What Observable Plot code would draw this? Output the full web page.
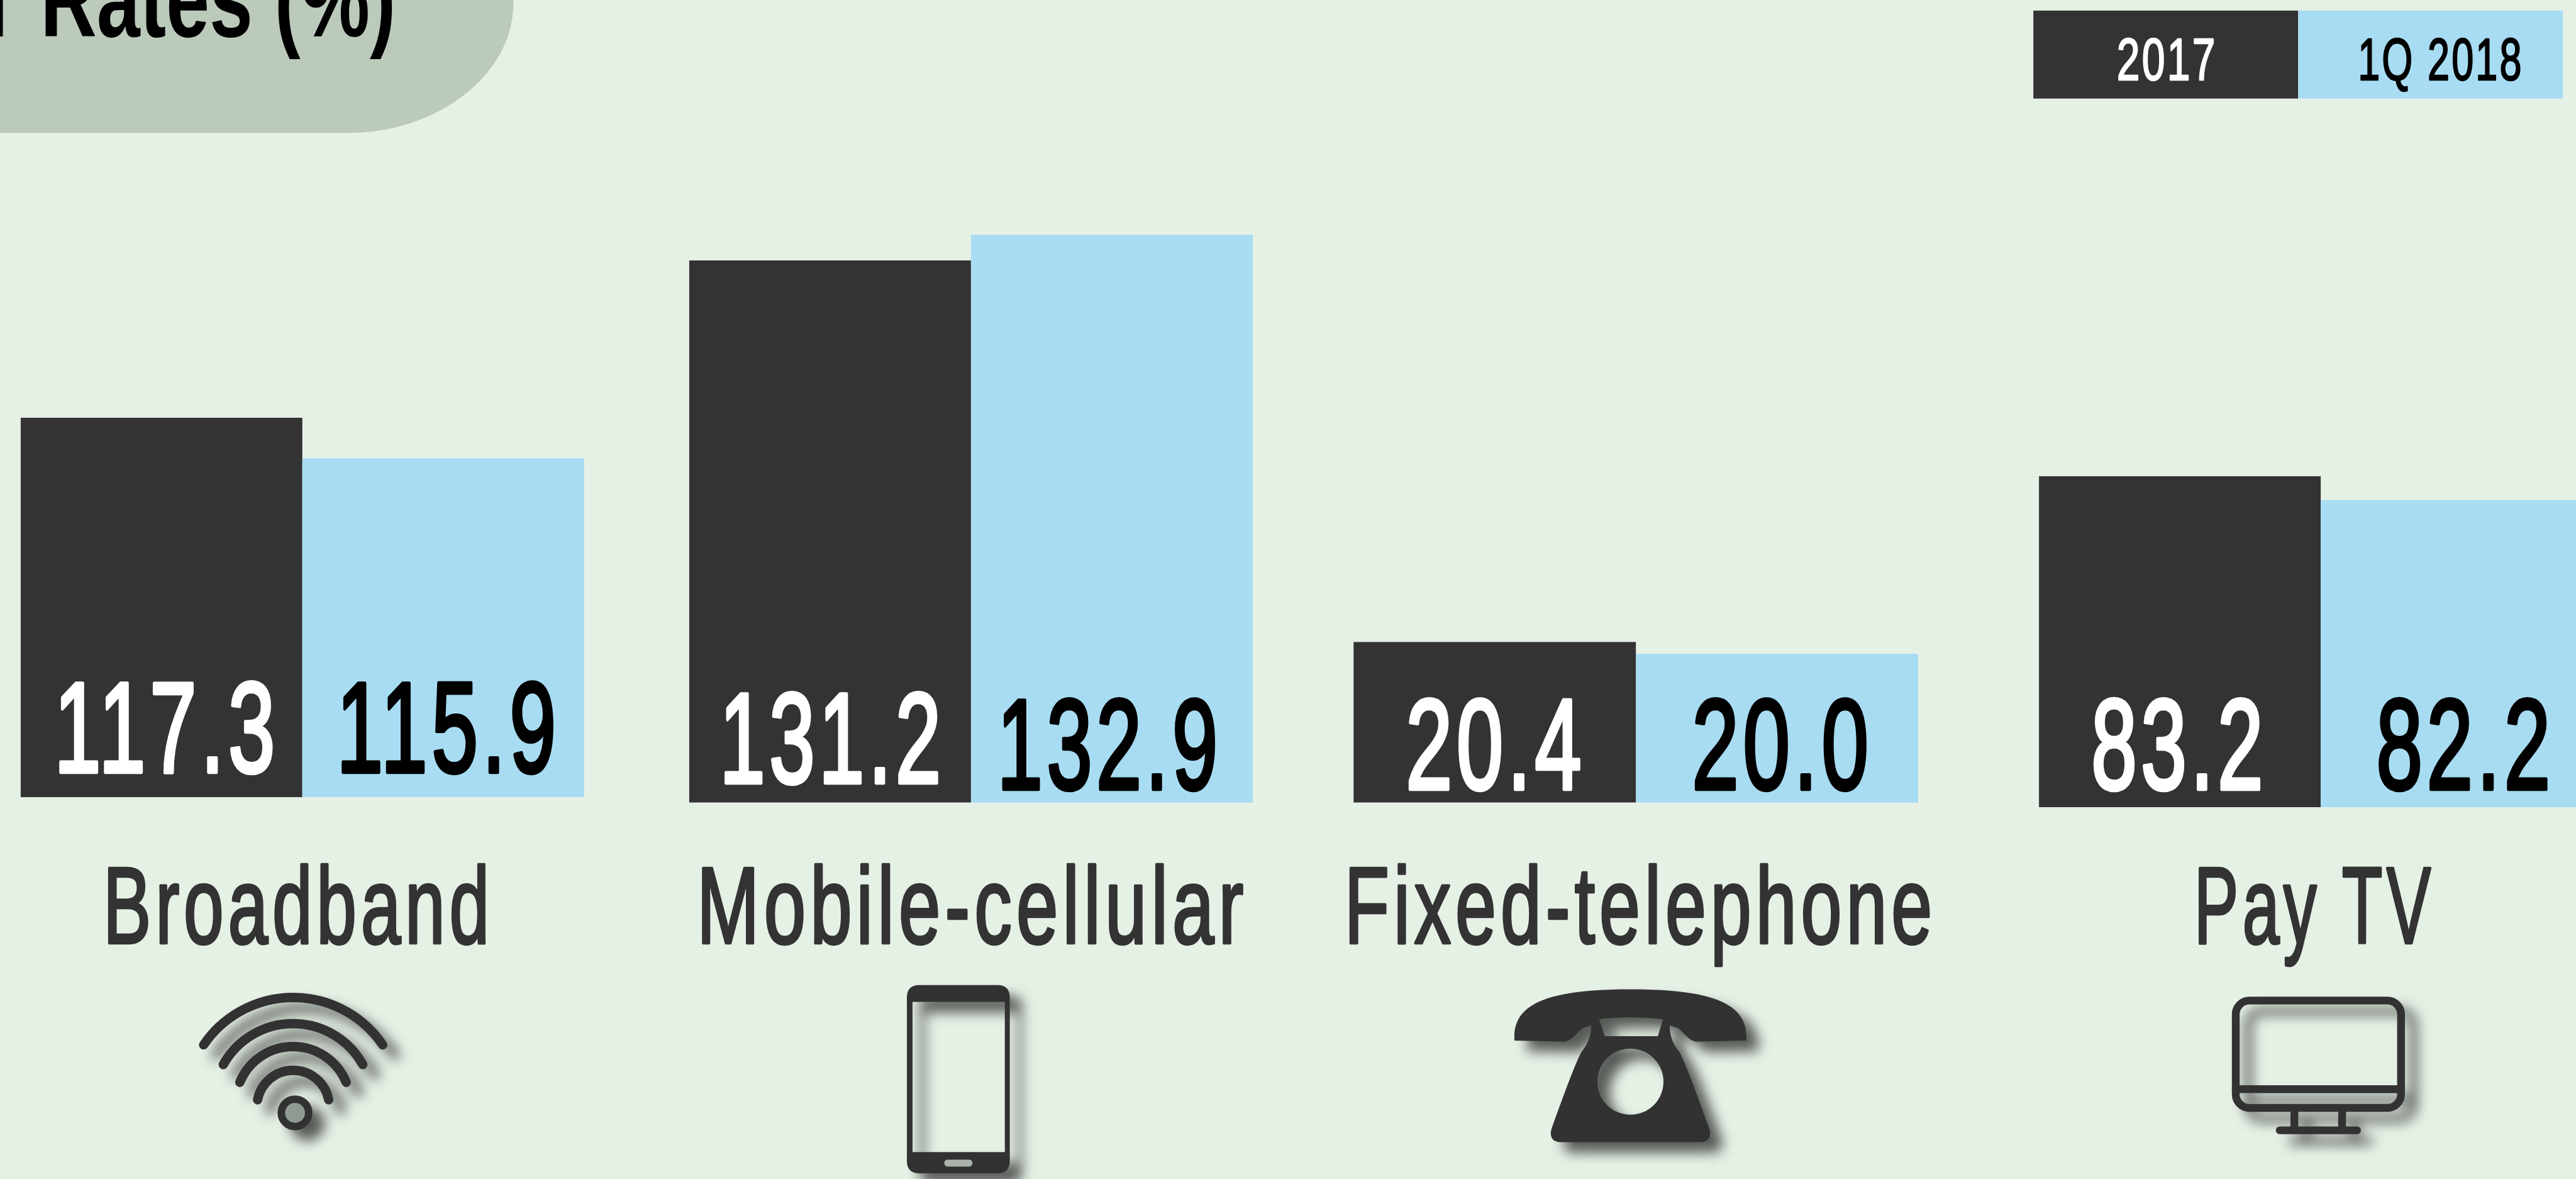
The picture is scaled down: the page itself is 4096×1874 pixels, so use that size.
<!DOCTYPE html>
<html><head><meta charset="utf-8">
<style>html,body{margin:0;padding:0;background:#e6f1e6;overflow:hidden}</style>
<script src="https://cdn.jsdelivr.net/npm/d3@7"></script>
<script src="https://cdn.jsdelivr.net/npm/@observablehq/plot@0.6"></script>
</head><body><div id="chart"></div>
<script>
// ---- data ----
const categories = ["Broadband", "Mobile-cellular", "Fixed-telephone", "Pay TV"];
const series = ["2017", "1Q 2018"];
const values2017 = [117.3, 131.2, 20.4, 83.2];
const values1Q2018 = [115.9, 132.9, 20.0, 82.2];
// every group in the source has its own truncated value axis
const axisFloors = [104.2, 95.17, 14.98, 69.38];
const axisCeilings = [125.26, 136.07, 35.75, 95.27];

// ---- style & layout (reference pixels) ----
const REF_W = 4130, REF_H = 1890, W = 4096, H = 1874;
const sx = W / REF_W, sy = H / REF_H, fs = (sx + sy) / 2;
const BG = "#e6f1e6", DARK = "#333333", BLUE = "#a8dcf3", BAND = "#bbcabb";
const FONT = "'Liberation Sans Narrow','Liberation Sans',sans-serif";
const panelTop = 300;
const panels = [
  {left: 33, right: 937, base: 1278, ink: [[88, 439, 1237], [541, 890, 1237]]},
  {left: 1104, right: 2009, base: 1286.6, ink: [[1154, 1506, 1253.7], [1600, 1950.5, 1264]]},
  {left: 2170, right: 3076, base: 1286.6, ink: [[2255, 2533.7, 1264], [2714, 2994, 1264]]},
  {left: 3268, right: 4173, base: 1294, ink: [[3353, 3626, 1264], [3811, 4087, 1264]]}
];
const catInk = [[167, 782], [1119, 1991], [2157, 3095], [3519, 3895]];
const catBaseline = 1511;
const legend = {top: 17, bottom: 158, edges: [3260, 3684.6, 4109], ink: [[3394.5, 3550], [3781, 4041]], baseline: 128};
const VALUE_SIZE = 206, VALUE_STROKE = 6.5, CAT_SIZE = 174, LEGEND_SIZE = 96;

// squeeze a drawn text horizontally so its ink spans `inkWidth` picture pixels
const pending = [];
function squeeze(text, inkWidth, fontSize, spacing, anchor) {
  pending.push(() => {
    const ls = spacing * fontSize;
    text.style.letterSpacing = ls + "px";
    const len = text.getComputedTextLength();
    const k = inkWidth / (len - ls - 0.07 * fontSize);
    const shift = anchor === "end" ? ls * k : ls * k / 2;
    const base = text.getAttribute("transform") || "";
    text.setAttribute("transform", `${base} translate(${shift},0) scale(${k},1)`);
  });
}

// One small Plot per group: own y domain, own x band
function panel(i) {
  const p = panels[i];
  const w = (p.right - p.left) * sx, h = (p.base - panelTop) * sy;
  const rows = series.map((s, j) => ({series: s, value: (j ? values1Q2018 : values2017)[i], floor: axisFloors[i]}));
  const marks = [
    Plot.rectY(rows, {x: "series", y1: "floor", y2: "value", fill: "series"})
  ];
  rows.forEach((r, j) => {
    const [a, b, bl] = p.ink[j];
    const centre = p.left + (j + .5) * (p.right - p.left) / 2;
    const c = j ? "#000" : "#fff";
    marks.push(Plot.text([r], {
      x: "series", text: d => d3.format(".1f")(d.value),
      frameAnchor: "bottom", lineAnchor: "bottom", textAnchor: "middle",
      dx: ((a + b) / 2 - centre) * sx, dy: -(p.base - bl) * sy,
      fill: c, stroke: c, strokeWidth: VALUE_STROKE, fontSize: VALUE_SIZE * fs
    }));
  });
  const svg = Plot.plot({
    width: w, height: h, margin: 0,
    x: {type: "band", domain: series, padding: 0, axis: null},
    y: {domain: [axisFloors[i], axisCeilings[i]], axis: null},
    color: {domain: series, range: [DARK, BLUE]},
    style: {fontFamily: FONT, background: "transparent", width: w + "px", height: h + "px", maxWidth: "none", overflow: "hidden"},
    marks
  });
  svg.setAttribute("x", p.left * sx);
  svg.setAttribute("y", panelTop * sy);
  svg.querySelectorAll("text").forEach((t, j) => {
    const [a, b] = p.ink[j];
    squeeze(t, (b - a - VALUE_STROKE) * sx, VALUE_SIZE * fs, 0.05);
  });
  return svg;
}

// Decorations drawn in reference pixels
const arcs = [[326.5, 613.5, 1675, 173.5], [358, 581.6, 1706.6, 128], [384.6, 555, 1735, 92], [413, 527, 1763, 58]];
function decorations() {
  const g = d3.create("svg:g").attr("transform", `scale(${sx},${sy})`);
  const f = g.append("defs").append("filter").attr("id", "iconShadow")
    .attr("x", "-30%").attr("y", "-30%").attr("width", "170%").attr("height", "170%");
  f.append("feDropShadow").attr("dx", 20).attr("dy", 17).attr("stdDeviation", 10)
    .attr("flood-color", "#000").attr("flood-opacity", 0.62);
  g.append("path").attr("fill", BAND)
    .attr("d", "M-10 -10 L823 -10 L823 6 C823 120 700 213 561 213 L-10 213 Z");
  const icons = g.append("g");
  // wifi
  const wifi = icons.append("g").attr("filter", "url(#iconShadow)").attr("fill", "none").attr("stroke", DARK).attr("stroke-width", 15).attr("stroke-linecap", "round");
  arcs.forEach(([a, b, y, r]) => wifi.append("path").attr("d", `M${a} ${y} A${r} ${r} 0 0 1 ${b} ${y}`));
  wifi.append("ellipse").attr("cx", 473).attr("cy", 1784).attr("rx", 22).attr("ry", 22).attr("stroke-width", 12).attr("fill", "#8f9a92");
  // phone
  const phone = icons.append("g").attr("filter", "url(#iconShadow)");
  phone.append("path").attr("fill", DARK).attr("fill-rule", "evenodd")
    .attr("d", "M1474 1579 H1599 Q1619 1579 1619 1599 V1861 Q1619 1881 1599 1881 H1474 Q1454 1881 1454 1861 V1599 Q1454 1579 1474 1579 Z M1463 1606 V1847 H1611 V1606 Z");
  phone.append("rect").attr("x", 1514).attr("y", 1859).attr("width", 45).attr("height", 11).attr("rx", 5).attr("fill", "#a9b3ab");
  // telephone
  icons.append("path").attr("filter", "url(#iconShadow)").attr("fill", DARK).attr("fill-rule", "evenodd")
    .attr("d", "M2428 1662 C2428 1610 2480 1586 2614 1586 C2748 1586 2800 1610 2800 1662 L2800 1668 L2722 1670 C2708 1670 2700 1655 2690 1648 L2677 1644 C2677 1660 2682 1674 2693 1687 C2705 1710 2730 1780 2741 1811 C2744 1826 2736 1831 2725 1831 L2503 1831 C2492 1831 2484 1826 2487 1811 C2498 1780 2523 1710 2535 1687 C2546 1674 2551 1660 2551 1644 L2538 1648 C2528 1655 2520 1670 2506 1670 L2428 1668 Z M2564 1634 L2573 1661 L2658 1661 L2666 1634 C2640 1630 2590 1630 2564 1634 Z M2561 1734 A53 53 0 1 0 2667 1734 A53 53 0 1 0 2561 1734 Z");
  // tv
  const tv = icons.append("g").attr("filter", "url(#iconShadow)").attr("fill", "none").attr("stroke", DARK).attr("stroke-width", 12.5).attr("stroke-linecap", "round");
  tv.append("rect").attr("x", 3584.5).attr("y", 1604).attr("width", 265).attr("height", 172).attr("rx", 22);
  tv.append("path").attr("d", "M3584.5 1746 H3849.5 M3678.5 1782 V1811 M3755 1782 V1811 M3655 1812 H3779");
  return g.node();
}

const chartSvg = Plot.plot({
  width: W, height: H, margin: 0,
  x: {domain: [0, REF_W], range: [0, W], axis: null},
  y: {domain: [0, REF_H], range: [0, H], axis: null},
  style: {background: BG, fontFamily: FONT, maxWidth: "none", display: "block"},
  marks: [
    () => decorations(),
    Plot.rect(series, {
      x1: (d, i) => legend.edges[i], x2: (d, i) => legend.edges[i + 1],
      y1: () => legend.top, y2: () => legend.bottom,
      fill: (d, i) => i ? BLUE : DARK
    }),
    ...categories.map((_, i) => () => panel(i)),
    // title
    Plot.text(["Penetration"], {x: () => 14, y: () => 58, text: d => d, textAnchor: "end", lineAnchor: "bottom",
      fontSize: 176 * fs, fontWeight: 700, fill: "#000"}),
    Plot.text(["Rates (%)"], {x: () => 634, y: () => 58, text: d => d, textAnchor: "end", lineAnchor: "bottom",
      fontSize: 176 * fs, fontWeight: 700, fill: "#000"}),
    // legend labels
    ...series.map((s, i) => Plot.text([s], {
      x: () => (legend.ink[i][0] + legend.ink[i][1]) / 2, y: () => legend.baseline,
      text: d => d, textAnchor: "middle", lineAnchor: "bottom",
      fontSize: LEGEND_SIZE * fs, fill: i ? "#000" : "#fff", stroke: i ? "#000" : "#fff", strokeWidth: 2.5
    })),
    // category labels
    ...categories.map((c, i) => Plot.text([c], {
      x: () => (catInk[i][0] + catInk[i][1]) / 2, y: () => catBaseline,
      text: d => d, textAnchor: "middle", lineAnchor: "bottom",
      fontSize: CAT_SIZE * fs, fill: DARK, stroke: DARK, strokeWidth: 4.5
    }))
  ]
});

const topTexts = [...chartSvg.querySelectorAll(":scope > g[aria-label='text'] > text")];
const widths = [
  [900, 176, 0.02, "end"], [561, 176, 0, "end"],
  ...legend.ink.map(([a, b]) => [b - a - 2, LEGEND_SIZE, 0.05]),
  ...catInk.map(([a, b]) => [b - a - 4, CAT_SIZE, 0.06])
];
topTexts.forEach((t, i) => { const [w, f, s, an] = widths[i]; squeeze(t, w * sx, f * fs, s, an); });
document.getElementById("chart").append(chartSvg);
pending.forEach(fn => fn());
</script></body></html>
